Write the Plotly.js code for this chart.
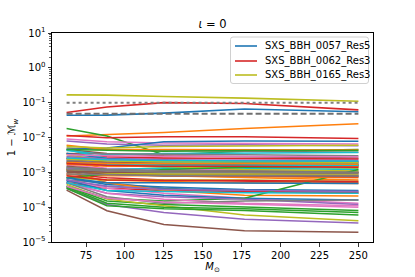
<!DOCTYPE html>
<html>
<head>
<meta charset="utf-8">
<script src="https://cdn.plot.ly/plotly-3.0.1.min.js"></script>
<style>
html,body{margin:0;padding:0;background:#fff;}
#chart{width:415px;height:277px;}
</style>
</head>
<body>
<div id="chart"></div>
<script>
// Total masses (solar masses)
var masses = [62.5, 88.4, 125, 176.8, 250];

// Highlighted runs
var highlightNames = ["SXS_BBH_0057_Res5", "SXS_BBH_0062_Res3", "SXS_BBH_0165_Res3"];
var run0057 = [0.0435, 0.044, 0.05, 0.066, 0.055];
var run0062 = [0.052, 0.075, 0.100, 0.095, 0.062];
var run0165 = [0.167, 0.165, 0.15, 0.135, 0.11];

// Reference thresholds
var dottedLevel = 0.1;
var dashedLevel = 0.048;

// All other runs (1 - M_w at each mass); null marks where a highlighted run sits in the cycle
var otherRuns = [
  null,
  [0.011,0.012,0.014,0.018,0.025],
  [0.018,0.011,0.0032,0.004,0.0045],
  null,
  [0.008,0.0065,0.006,0.0062,0.0058],
  [0.0045,0.0035,0.003,0.0028,0.0026],
  [0.009,0.0075,0.007,0.0068,0.0065],
  [0.005,0.0045,0.0042,0.004,0.0038],
  null,
  [0.0042,0.0032,0.0035,0.0036,0.0037],
  [0.0045,0.005,0.0075,0.008,0.0078],
  [0.0025,0.0012,0.0008,0.0007,0.0006],
  [0.0013,0.0012,0.0011,0.0011,0.001],
  [0.0115,0.0098,0.0105,0.0105,0.0093],
  [0.0022,0.0019,0.0018,0.0018,0.0017],
  [0.0012,0.0011,0.001,0.00095,0.0009],
  [0.0028,0.0026,0.0025,0.0024,0.0024],
  [0.0006,0.0005,0.00035,0.00028,0.00025],
  [0.0018,0.0016,0.0014,0.0014,0.0013],
  [0.0011,0.0009,0.0008,0.0008,0.00075],
  [0.00055,0.0004,0.00033,0.0003,0.00028],
  [0.006,0.0045,0.0045,0.0045,0.0044],
  [0.0004,0.00015,0.00012,0.0001,0.00008],
  [0.0009,0.0007,0.0006,0.00055,0.0005],
  [0.00035,0.00012,0.00007,0.000045,0.000035],
  [0.00031,0.000079,0.000032,0.000021,0.000019],
  [0.0016,0.0013,0.0012,0.0012,0.0011],
  [0.0022,0.0021,0.002,0.0019,0.0018],
  [0.00045,0.00017,0.00011,0.00006,0.000041],
  [0.0014,0.0012,0.0013,0.0013,0.0012],
  [0.0007,0.00045,0.00038,0.00032,0.0003],
  [0.0008,0.0006,0.00055,0.0005,0.00048],
  [0.00038,0.00013,0.0001,0.00009,0.00007],
  [0.0005,0.00035,0.0003,0.00028,0.00026],
  [0.0019,0.0016,0.0015,0.0015,0.0014],
  [0.0015,0.0012,0.0011,0.0011,0.001],
  [0.0006,0.00035,0.00025,0.00018,0.00013],
  [0.0035,0.0034,0.0033,0.0032,0.003],
  [0.0032,0.0022,0.0015,0.0012,0.0011],
  [0.0011,0.0009,0.0009,0.0008,0.0008],
  [0.0006,0.0003,0.00022,0.00018,0.00016],
  [0.0012,0.0005,0.0003,0.00022,0.00021],
  [0.0004,0.00018,0.00015,0.00018,0.0012],
  [0.0035,0.0028,0.0026,0.0025,0.0024],
  [0.0005,0.00025,0.0002,0.00017,0.00012],
  [0.0025,0.002,0.0018,0.0017,0.0016],
  [0.0005,0.00025,0.00017,0.00013,0.00011],
  [0.0005,0.0002,0.00013,0.00015,0.00016],
  [0.0007,0.0006,0.0006,0.0006,0.00055],
  [0.0005,0.0003,0.00028,0.00026,0.00025],
  [0.0025,0.0022,0.002,0.0019,0.0019],
  [0.0009,0.0008,0.0008,0.00075,0.0007],
  [0.0007,0.0009,0.0012,0.0014,0.0015],
  [0.0012,0.0009,0.0008,0.0008,0.00075],
  [0.0013,0.001,0.0009,0.0009,0.00085],
  [0.002,0.0018,0.0017,0.0017,0.0016],
  [0.0025,0.0022,0.0021,0.0021,0.002],
  [0.0014,0.0012,0.0011,0.0011,0.001],
  [0.0055,0.005,0.0055,0.0058,0.006],
  [0.0045,0.0025,0.002,0.0018,0.0017],
  [0.0035,0.0025,0.0022,0.0021,0.002],
  [0.0017,0.0015,0.0015,0.0015,0.0015],
  [0.0045,0.0042,0.004,0.0042,0.0042],
  [0.0008,0.0006,0.00058,0.00058,0.00055],
  [0.0028,0.0024,0.0023,0.0022,0.0022],
  [0.001,0.0009,0.00085,0.00085,0.0008],
  [0.0032,0.003,0.0029,0.0028,0.0028],
  [0.0009,0.00085,0.0008,0.0008,0.00078],
  [0.0012,0.00095,0.0009,0.0009,0.0009],
  [0.0019,0.0017,0.0016,0.0016,0.0016],
  [0.0007,0.0005,0.0005,0.0005,0.00048],
  [0.0019,0.0018,0.0018,0.0018,0.0017],
  [0.00035,0.00011,0.00009,0.00008,0.00006],
  [0.0018,0.0016,0.0015,0.0015,0.0014],
  [0.0006,0.0004,0.00032,0.0003,0.00028],
  [0.0011,0.001,0.001,0.001,0.00095],
  [0.0004,0.00018,0.00014,0.00012,0.0001],
  [0.0012,0.0011,0.001,0.001,0.00095],
  [0.0024,0.0021,0.002,0.002,0.0019],
  [0.0026,0.0023,0.0022,0.0021,0.0021]
];

var yTickVals = [1e-5, 1e-4, 1e-3, 1e-2, 1e-1, 1, 10];
var yTickText = ["10<sup>\u22125</sup>","10<sup>\u22124</sup>","10<sup>\u22123</sup>","10<sup>\u22122</sup>","10<sup>\u22121</sup>","10<sup>0</sup>","10<sup>1</sup>"];
var xTickVals = [75, 100, 125, 150, 175, 200, 225, 250];

var cycle = ["#1f77b4","#ff7f0e","#2ca02c","#d62728","#9467bd","#8c564b","#e377c2","#7f7f7f","#bcbd22","#17becf"];
var highlightIdx = [0, 3, 8];
var highlightRuns = [run0057, run0062, run0165];

var traces = [];
for (var i = 0; i < otherRuns.length; i++) {
  var col = cycle[i % 10];
  var h = highlightIdx.indexOf(i);
  if (h >= 0) {
    traces.push({x: masses, y: highlightRuns[h], type: 'scatter', mode: 'lines',
      name: highlightNames[h], showlegend: false, line: {color: col, width: 1.6}});
  } else {
    traces.push({x: masses, y: otherRuns[i], type: 'scatter', mode: 'lines',
      showlegend: false, line: {color: col, width: 1.5}});
  }
}
traces.push({x: [masses[0], masses[masses.length-1]], y: [dottedLevel, dottedLevel], type: 'scatter', mode: 'lines',
  showlegend: false, line: {color: '#808080', width: 2, dash: 'dot'}});
traces.push({x: [masses[0], masses[masses.length-1]], y: [dashedLevel, dashedLevel], type: 'scatter', mode: 'lines',
  showlegend: false, line: {color: '#707070', width: 2, dash: '6px,3px'}});

var minorVals = [];
for (var e = -5; e < 1; e++) { for (var m = 2; m <= 9; m++) { minorVals.push(m * Math.pow(10, e)); } }

// Plot-area geometry in pixels (for the hand-drawn legend)
var PL = 52, PR = 373, PT = 33, PB = 242;
function px(xp) { return (xp - PL) / (PR - PL); }
function py(yp) { return 1 - (yp - PT) / (PB - PT); }

var shapes = [];
var annotations = [];
// legend frame with rounded corners
(function () {
  var x0 = 230.5, x1 = 368.5, y0 = 37, y1 = 83.5, r = 2.5;
  var path = 'M' + px(x0 + r) + ',' + py(y0) +
    ' L' + px(x1 - r) + ',' + py(y0) +
    ' Q' + px(x1) + ',' + py(y0) + ' ' + px(x1) + ',' + py(y0 + r) +
    ' L' + px(x1) + ',' + py(y1 - r) +
    ' Q' + px(x1) + ',' + py(y1) + ' ' + px(x1 - r) + ',' + py(y1) +
    ' L' + px(x0 + r) + ',' + py(y1) +
    ' Q' + px(x0) + ',' + py(y1) + ' ' + px(x0) + ',' + py(y1 - r) +
    ' L' + px(x0) + ',' + py(y0 + r) +
    ' Q' + px(x0) + ',' + py(y0) + ' ' + px(x0 + r) + ',' + py(y0) + ' Z';
  shapes.push({type: 'path', xref: 'paper', yref: 'paper', path: path,
    fillcolor: 'rgba(255,255,255,0.8)', line: {color: '#d0d0d0', width: 1}});
})();
var rowY = [46, 61, 75];
for (var k = 0; k < 3; k++) {
  shapes.push({type: 'line', xref: 'paper', yref: 'paper', x0: px(235), x1: px(257), y0: py(rowY[k]), y1: py(rowY[k]),
    line: {color: cycle[highlightIdx[k]], width: 1.6}});
  annotations.push({xref: 'paper', yref: 'paper', x: px(262.5), y: py(rowY[k]), xanchor: 'left', yanchor: 'middle',
    text: highlightNames[k], showarrow: false, font: {family: 'DejaVu Sans, sans-serif', size: 10, color: '#000'}});
}

var font = {family: 'DejaVu Sans, sans-serif', size: 10, color: '#000'};
var layout = {
  width: 415, height: 277,
  margin: {l: 52, r: 42, t: 33, b: 35, pad: 0},
  paper_bgcolor: '#fff', plot_bgcolor: '#fff',
  font: font,
  showlegend: false,
  title: {text: '<i>\u03b9</i> = 0', font: {family: 'DejaVu Sans, sans-serif', size: 11.5, color: '#000'},
    x: 0.5, xref: 'paper', xanchor: 'center', y: 1, yref: 'paper', yanchor: 'bottom', pad: {b: 5}},
  xaxis: {range: [53.125, 259.375], tickmode: 'array', tickvals: xTickVals,
    showline: true, mirror: true, linecolor: '#000', linewidth: 1,
    ticks: 'outside', ticklen: 3.5, tickwidth: 0.8, tickcolor: '#000',
    showgrid: false, zeroline: false, tickfont: font,
    title: {text: '<i>M</i><sub>\u2299</sub>', font: font, standoff: 2}},
  yaxis: {type: 'log', range: [-5, 1], tickmode: 'array', tickvals: yTickVals, ticktext: yTickText,
    showline: true, mirror: true, linecolor: '#000', linewidth: 1,
    ticks: 'outside', ticklen: 3.5, tickwidth: 0.8, tickcolor: '#000',
    minor: {tickmode: 'array', tickvals: minorVals, ticks: 'outside', ticklen: 2, tickwidth: 0.6, tickcolor: '#000', showgrid: false},
    showgrid: false, zeroline: false, tickfont: font,
    title: {text: '1 \u2212 <i>\u2133</i><sub><i>w</i></sub>', font: font, standoff: 4}},
  shapes: shapes,
  annotations: annotations
};

Plotly.newPlot('chart', traces, layout, {staticPlot: true, displayModeBar: false});
</script>
</body>
</html>
